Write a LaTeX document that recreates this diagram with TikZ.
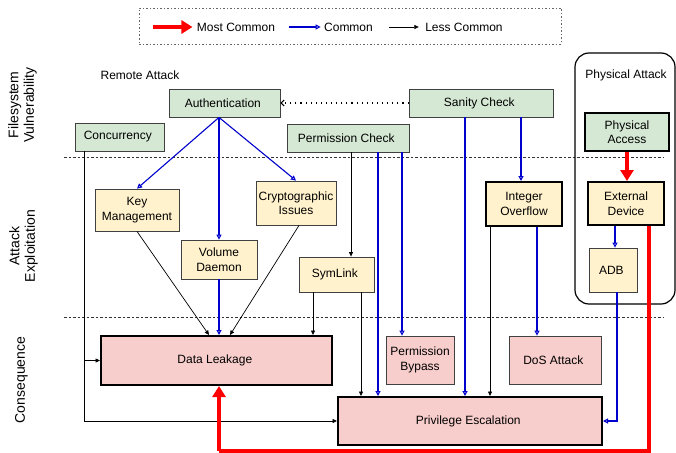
\documentclass[tikz,border=0pt]{standalone}
\usepackage{fontspec}
\setmainfont{Liberation Sans}
\usetikzlibrary{arrows.meta}

\definecolor{vulngreen}{HTML}{D5E8D4}
\definecolor{exployellow}{HTML}{FFF2CC}
\definecolor{conspink}{HTML}{F8CECC}
\definecolor{commonblue}{HTML}{0000CC}

\begin{document}
\begin{tikzpicture}[x=1pt,y=-1pt,
  font=\fontsize{12}{14.5}\selectfont,
  vuln/.style={draw=black!75, fill=vulngreen, line width=0.8pt, align=center, inner sep=1pt},
  explo/.style={draw=black!75, fill=exployellow, line width=0.8pt, align=center, inner sep=1pt},
  cons/.style={draw=black!75, fill=conspink, line width=0.8pt, align=center, inner sep=1pt},
  heavy/.style={draw=black, line width=2pt},
  rowlabel/.style={rotate=90, align=center, font=\fontsize{14}{15.5}\selectfont},
  less/.style={black, line width=0.7pt, -{Triangle[length=4.5pt,width=4pt]}},
  common/.style={commonblue, line width=1.1pt, -{Triangle[open,length=5pt,width=5pt,fill=white]}},
  most/.style={red, line width=3.5pt, -{Triangle[length=11pt,width=13pt]}}]
  \useasboundingbox (0,0) rectangle (676,452);

  % legend
  \node [draw=black!60, dash pattern=on 1.5pt off 2pt, minimum width=422, minimum height=36] (legend) at (350,26) {};
  \node (lmost) at (236,27) { Most Common };
  \node (lcommon) at (348.5,27) { Common };
  \node (lless) at (464,27) { Less Common };
  \draw [most, line width=4pt] ([xshift=-40pt]lmost.west) -- ([xshift=-1pt]lmost.west);
  \draw [common] ([xshift=-32pt]lcommon.west) -- ([xshift=0pt]lcommon.west);
  \draw [less] ([xshift=-33pt]lless.west) -- ([xshift=-3pt]lless.west);

  % rows
  \node [rowlabel] (rowvuln) at (22.5,105) { Filesystem\\Vulnerability };
  \node [rowlabel] (rowexpl) at (23.5,246) { Attack\\Exploitation };
  \node [rowlabel] (rowcons) at (21.5,378) { Consequence };
  \draw [black!80, dash pattern=on 2.5pt off 2pt] (64,157) -- (664,157);
  \draw [black!80, dash pattern=on 2.5pt off 2pt] (64,317) -- (664,317);

  \node (remote) at (140,75) { Remote Attack };
  \draw [line width=1.2pt, rounded corners=14pt] (575,53) rectangle (675,304);
  \node (physical) at (626,75) { Physical Attack };

  % filesystem vulnerability
  \node [vuln, minimum width=111, minimum height=28] (auth) at (224.5,103) { Authentication };
  \node [vuln, minimum width=144, minimum height=28] (sanity) at (481,103) { Sanity Check };
  \node [vuln, minimum width=89, minimum height=28] (conc) at (119.5,137) { Concurrency };
  \node [vuln, minimum width=122, minimum height=28] (permc) at (348,138) { Permission Check };
  \node [vuln, heavy, minimum width=84, minimum height=38] (physacc) at (627,132) { Physical\\Access };

  % attack exploitation
  \node [explo, minimum width=84, minimum height=42] (keym) at (137,210) { Key\\Management };
  \node [explo, minimum width=80, minimum height=44] (crypto) at (296,203) { Cryptographic\\Issues };
  \node [explo, minimum width=76, minimum height=39] (vold) at (219,259.5) { Volume\\Daemon };
  \node [explo, minimum width=75, minimum height=35] (symlink) at (336.5,274.5) { SymLink };
  \node [explo, heavy, minimum width=76, minimum height=44] (intov) at (524,204) { Integer\\Overflow };
  \node [explo, heavy, minimum width=76, minimum height=43] (extdev) at (626,203.5) { External\\Device };
  \node [explo, minimum width=48, minimum height=44] (adb) at (613,270) { ADB };

  % consequence
  \node [cons, heavy, minimum width=231, minimum height=49] (leak) at (216.5,360.5) { Data Leakage };
  \node [cons, minimum width=68, minimum height=48] (bypass) at (420,360) { Permission\\Bypass };
  \node [cons, minimum width=92, minimum height=48] (dos) at (555,360) { DoS Attack };
  \node [cons, heavy, minimum width=264, minimum height=48] (priv) at (470,421) { Privilege Escalation };

  % paths
  \draw [line width=1.1pt, dash pattern=on 1.1pt off 4pt, -{Straight Barb[length=3pt,width=6pt]}] (sanity.west) -- (auth.east);

  \draw [common] (vold.north |- auth.south) -- (keym.north);
  \draw [common] (vold.north |- auth.south) -- (vold.north);
  \draw [common] (vold.north |- auth.south) -- (crypto.north);

  \draw [less] ([xshift=-35.5pt]conc.south) |- (leak.west);
  \draw [less] ([xshift=-35.5pt]conc.south) |- (priv.west);

  \draw [less] ([xshift=3pt]permc.south) -- ([xshift=3pt]permc.south |- symlink.north);
  \draw [common] ([xshift=30pt]permc.south) -- ([xshift=30pt]permc.south |- priv.north);
  \draw [common] ([xshift=54pt]permc.south) -- ([xshift=54pt]permc.south |- bypass.north);

  \draw [common] ([xshift=-16pt]sanity.south) -- ([xshift=-16pt]sanity.south |- priv.north);
  \draw [common] ([xshift=40pt]sanity.south) -- ([xshift=40pt]sanity.south |- intov.north);

  \draw [less] ([xshift=-34pt]intov.south) -- ([xshift=-34pt]intov.south |- priv.north);
  \draw [common] ([xshift=13pt]intov.south) -- ([xshift=13pt]intov.south |- dos.north);

  \draw [less] ([xshift=-23.5pt]symlink.south) -- ([xshift=-23.5pt]symlink.south |- leak.north);
  \draw [less] ([xshift=24.5pt]symlink.south) -- ([xshift=24.5pt]symlink.south |- priv.north);

  \draw [less] (keym.south) -- ([xshift=-7.5pt]leak.north);
  \draw [common] (vold.south) -- (vold.south |- leak.north);
  \draw [less] ([xshift=3pt]crypto.south) -- ([xshift=13.5pt]leak.north);

  \draw [most] (physacc.south) -- (physacc.south |- extdev.north);
  \draw [common] ([xshift=-11pt]extdev.south) -- ([xshift=-11pt]extdev.south |- adb.north);
  \draw [common] ([xshift=4pt]adb.south) |- (priv.east);

  \coordinate (redturn) at (219,451);
  \draw [most, -] ([xshift=23pt]extdev.south) |- (redturn);
  \draw [most] (redturn) -- (redturn |- leak.south);
\end{tikzpicture}
\end{document}
